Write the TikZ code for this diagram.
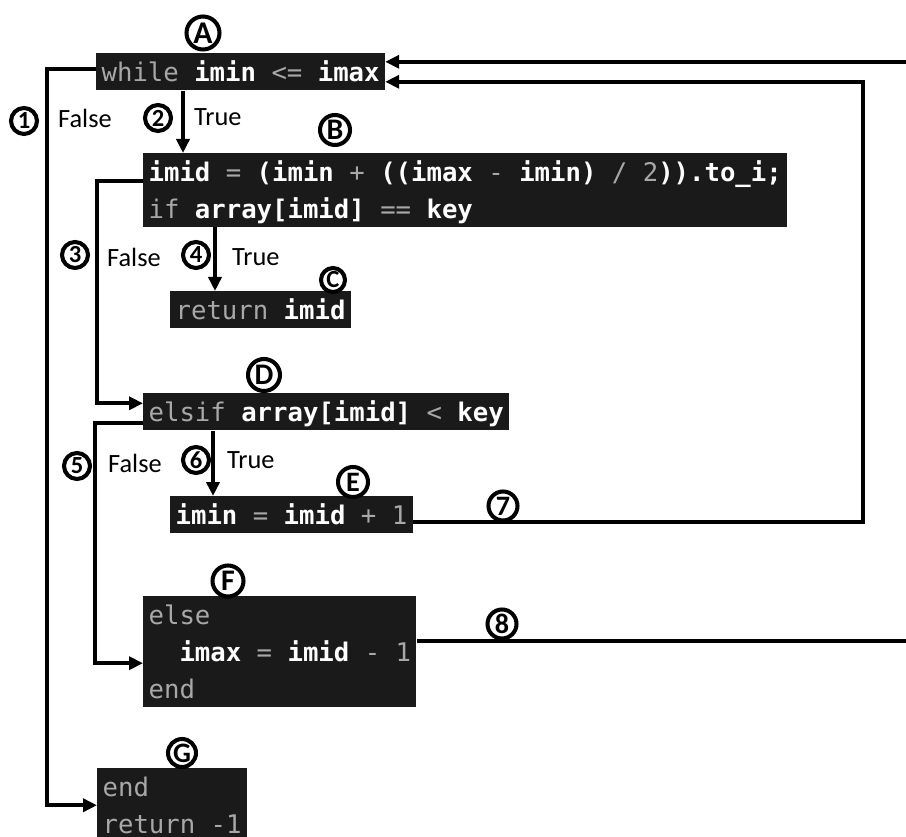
\documentclass[tikz,border=0pt]{standalone}
\usepackage{fontspec}
\setmainfont{Carlito}
\setmonofont{DejaVu Sans Mono}
\usetikzlibrary{arrows.meta, positioning, calc}
\definecolor{boxfill}{HTML}{1A1A1A}
\definecolor{kwgray}{HTML}{A8A8A8}
\newcommand{\kw}[1]{\textcolor{kwgray}{\mdseries #1}}
\newcommand{\cstrut}{\rule[-3.5pt]{0pt}{18pt}}
\tikzset{
  codebox/.style={rectangle, anchor=north west, fill=boxfill, text=white, align=left, inner xsep=3pt, inner ysep=1.5pt, font=\fontsize{14.6}{21}\selectfont\ttfamily\bfseries},
  tag/.style={circle, draw=black, line width=2.3pt, inner sep=0pt, minimum size=0.52cm, font=\bfseries\fontsize{14}{14}\selectfont},
  branch/.style={anchor=west, font=\fontsize{15}{15}\selectfont},
  flow/.style={line width=2.2pt, -{Triangle[length=0.28cm, width=0.26cm]}},
}
\begin{document}
\begin{tikzpicture}[x=0.02cm, y=-0.02cm]
\useasboundingbox (0,0) rectangle (906,837);
\clip (0,0) rectangle (906,837);
% code blocks
\node[codebox] (A) at (96,53) {\cstrut\kw{while} imin \kw{<=} imax};
\node[codebox] (B) at (143,153) {\cstrut imid \kw{=} (imin \kw{+} ((imax \kw{-} imin) \kw{/} \kw{2})).to\_i;\\\cstrut\kw{if} array[imid] \kw{==} key};
\node[codebox] (C) at (170,291) {\cstrut\kw{return} imid};
\node[codebox] (D) at (143,393) {\cstrut\kw{elsif} array[imid] \kw{<} key};
\node[codebox] (E) at (170,496) {\cstrut imin \kw{=} imid \kw{+} \kw{1}};
\node[codebox] (F) at (143,596) {\cstrut\kw{else}\\\cstrut\phantom{xx}imax \kw{=} imid \kw{-} \kw{1}\\\cstrut\kw{end}};
\node[codebox] (G) at (97,768) {\cstrut\kw{end}\\\cstrut\kw{return -1}};

% hand-drawn marks
\node[tag, minimum size=0.66cm, font=\bfseries\fontsize{18}{18}\selectfont] (tA) at (203,33) {A};
\node[tag, minimum size=0.6cm, font=\bfseries\fontsize{17}{17}\selectfont] (tB) at (335,130) {B};
\node[tag, minimum size=0.48cm] (tC) at (333,280) {C};
\node[tag, minimum size=0.64cm, font=\bfseries\fontsize{17}{17}\selectfont] (tD) at (264,375) {D};
\node[tag, minimum size=0.6cm, font=\bfseries\fontsize{16}{16}\selectfont] (tE) at (353,482) {E};
\node[tag, minimum size=0.62cm, font=\bfseries\fontsize{17}{17}\selectfont] (tF) at (228,581) {F};
\node[tag, minimum size=0.56cm, font=\bfseries\fontsize{16}{16}\selectfont] (tG) at (182,753) {G};
\node[tag] (t1) at (24,121) {1};
\node[tag] (t2) at (158,118) {2};
\node[tag] (t3) at (75,255) {3};
\node[tag] (t4) at (196,255) {4};
\node[tag] (t5) at (77,466) {5};
\node[tag] (t6) at (196,460) {6};
\node[tag, minimum size=0.58cm, font=\bfseries\fontsize{16}{16}\selectfont] (t7) at (503,506) {7};
\node[tag, minimum size=0.58cm, font=\bfseries\fontsize{16}{16}\selectfont] (t8) at (502,624) {8};

% branch labels
\node[branch] (f1) at (52,118) {False};
\node[branch] (r2) at (188,117) {True};
\node[branch] (f3) at (101,257) {False};
\node[branch] (r4) at (226,257) {True};
\node[branch] (f5) at (102,463) {False};
\node[branch] (r6) at (221,460) {True};

% connectors
\draw[flow] ([yshift=0.06cm]A.west) -- ++(-49,0) |- (G.west);
\draw[flow] ($(A.south west)+(87,0)$) -- ($(B.north west)+(40,0)$);
\draw[flow] ($(B.north west)+(0,28)$) -- ++(-46,0) |- ([yshift=0.17cm]D.west);
\draw[flow] ($(B.south west)+(72,0)$) -- ($(C.north west)+(45,0)$);
\draw[flow] ([yshift=-0.22cm]D.west) -- ++(-48,0) |- ([yshift=-0.23cm]F.west);
\draw[flow] ($(D.south west)+(70,0)$) -- ($(E.north west)+(43,0)$);
\draw[flow] ([yshift=-0.14cm]E.east) -- ++(450,0) |- ([yshift=-0.2cm]A.east);
\draw[flow] ([yshift=0.22cm]F.east) -- ++(540,0) |- ([yshift=0.2cm]A.east);
\end{tikzpicture}
\end{document}
